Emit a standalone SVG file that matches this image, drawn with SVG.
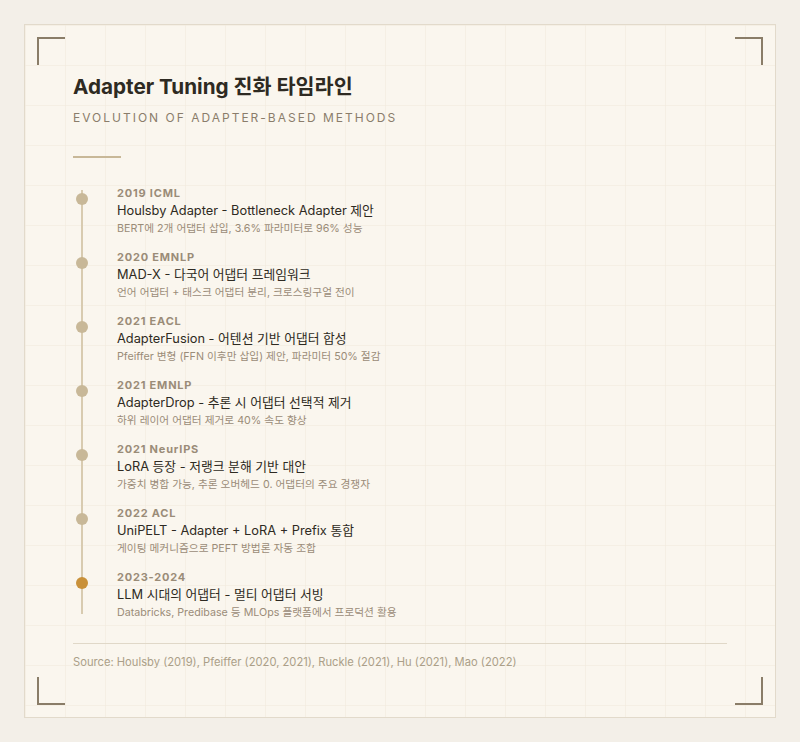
<svg xmlns="http://www.w3.org/2000/svg" width="800" height="742" viewBox="0 0 800 742">
<defs>
<pattern id="grid" x="25" y="25" width="40" height="40" patternUnits="userSpaceOnUse">
<path d="M0 0 H40 M0 0 V40" fill="none" stroke="#efe8da" stroke-width="1"/>
</pattern>
<style>
.ff{font-family:Inter,"Noto Sans CJK KR",sans-serif}
.lbl{font-size:11px;font-weight:700;fill:#9a8c78;letter-spacing:0.8px}
.ttl{font-size:12.8px;fill:#2e2a22}
.dsc{font-size:10.7px;fill:#9a8c78}
.dot{fill:#c8b898}
.corner{fill:none;stroke:#8a7d68;stroke-width:2}
</style>
</defs>
<rect width="800" height="742" fill="#f3efe8"/>
<rect x="24.5" y="24.5" width="751" height="693" fill="#faf6ee"/>
<rect x="24.5" y="24.5" width="751" height="693" fill="url(#grid)"/>
<rect x="24.5" y="24.5" width="751" height="693" fill="none" stroke="#e2dacb" stroke-width="1"/>
<g id="corners">
<path class="corner" d="M38 65 V38 H65"/>
<path class="corner" d="M735 38 H762 V65"/>
<path class="corner" d="M38 677 V704 H65"/>
<path class="corner" d="M735 704 H762 V677"/>
</g>
<g id="header" class="ff">
<text x="73" y="94" font-size="20.7" font-weight="700" fill="#2e2a22">Adapter Tuning 진화 타임라인</text>
<text x="73" y="122" font-size="12" fill="#8a7d6b" letter-spacing="2">EVOLUTION OF ADAPTER-BASED METHODS</text>
<line x1="73" y1="157" x2="121" y2="157" stroke="#c8b898" stroke-width="2"/>
</g>
<g id="connectors">
<line x1="82" y1="190" x2="82" y2="614" stroke="#d8cbb0" stroke-width="2"/>
</g>
<g id="item1" class="ff">
<circle class="dot" cx="82" cy="199" r="6"/>
<text class="lbl" x="117" y="197">2019 ICML</text>
<text class="ttl" x="117" y="215">Houlsby Adapter - Bottleneck Adapter 제안</text>
<text class="dsc" x="117" y="232">BERT에 2개 어댑터 삽입, 3.6% 파라미터로 96% 성능</text>
</g>
<g id="item2" class="ff">
<circle class="dot" cx="82" cy="263" r="6"/>
<text class="lbl" x="117" y="261">2020 EMNLP</text>
<text class="ttl" x="117" y="279">MAD-X - 다국어 어댑터 프레임워크</text>
<text class="dsc" x="117" y="296">언어 어댑터 + 태스크 어댑터 분리, 크로스링구얼 전이</text>
</g>
<g id="item3" class="ff">
<circle class="dot" cx="82" cy="327" r="6"/>
<text class="lbl" x="117" y="325">2021 EACL</text>
<text class="ttl" x="117" y="343">AdapterFusion - 어텐션 기반 어댑터 합성</text>
<text class="dsc" x="117" y="360">Pfeiffer 변형 (FFN 이후만 삽입) 제안, 파라미터 50% 절감</text>
</g>
<g id="item4" class="ff">
<circle class="dot" cx="82" cy="391" r="6"/>
<text class="lbl" x="117" y="389">2021 EMNLP</text>
<text class="ttl" x="117" y="407">AdapterDrop - 추론 시 어댑터 선택적 제거</text>
<text class="dsc" x="117" y="424">하위 레이어 어댑터 제거로 40% 속도 향상</text>
</g>
<g id="item5" class="ff">
<circle class="dot" cx="82" cy="455" r="6"/>
<text class="lbl" x="117" y="453">2021 NeurIPS</text>
<text class="ttl" x="117" y="471">LoRA 등장 - 저랭크 분해 기반 대안</text>
<text class="dsc" x="117" y="488">가중치 병합 가능, 추론 오버헤드 0. 어댑터의 주요 경쟁자</text>
</g>
<g id="item6" class="ff">
<circle class="dot" cx="82" cy="519" r="6"/>
<text class="lbl" x="117" y="517">2022 ACL</text>
<text class="ttl" x="117" y="535">UniPELT - Adapter + LoRA + Prefix 통합</text>
<text class="dsc" x="117" y="552">게이팅 메커니즘으로 PEFT 방법론 자동 조합</text>
</g>
<g id="item7" class="ff">
<circle cx="82" cy="583" r="6" fill="#c9913a"/>
<text class="lbl" x="117" y="581">2023-2024</text>
<text class="ttl" x="117" y="599">LLM 시대의 어댑터 - 멀티 어댑터 서빙</text>
<text class="dsc" x="117" y="616">Databricks, Predibase 등 MLOps 플랫폼에서 프로덕션 활용</text>
</g>
<g id="footer" class="ff">
<line x1="73" y1="643.5" x2="727" y2="643.5" stroke="#e0d8c8" stroke-width="1"/>
<text x="73" y="666" font-size="11.2" fill="#ab9f88">Source: Houlsby (2019), Pfeiffer (2020, 2021), Ruckle (2021), Hu (2021), Mao (2022)</text>
</g>
</svg>
